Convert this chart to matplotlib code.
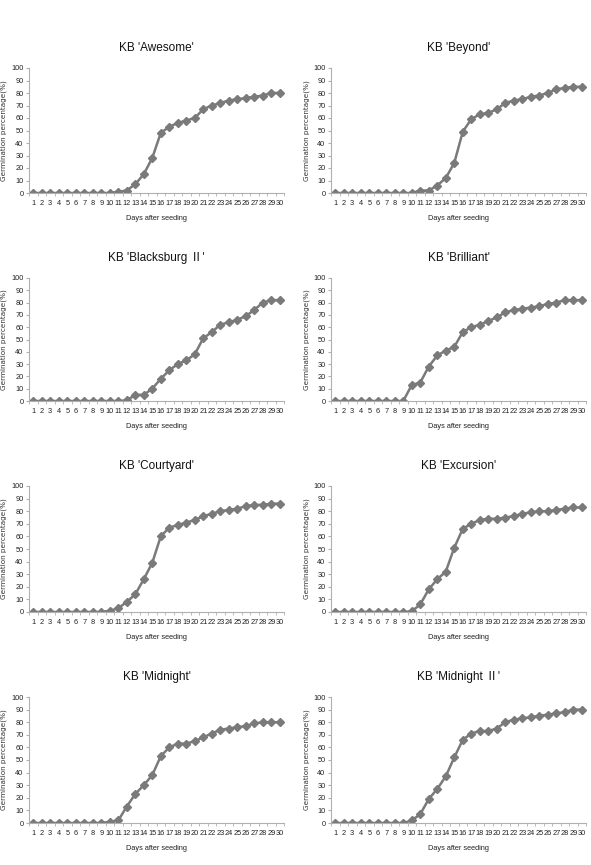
import numpy as np
import matplotlib
matplotlib.use("Agg")
import matplotlib.pyplot as plt
from matplotlib import font_manager

names = {f.name for f in font_manager.fontManager.ttflist}
base = 'Liberation Sans Narrow' if 'Liberation Sans Narrow' in names else 'Liberation Sans'
plt.rcParams['font.family'] = [base, 'Noto Sans CJK SC', 'DejaVu Sans']

days = list(range(1, 31))

titles = ["KB 'Awesome'", "KB 'Beyond'", "KB 'Blacksburg \u2161'", "KB 'Brilliant'",
          "KB 'Courtyard'", "KB 'Excursion'", "KB 'Midnight'", "KB 'Midnight \u2161'"]

awesome = [0]*10 + [1, 2, 7, 15, 28, 48, 53, 56, 58, 60, 67, 70, 72, 74, 75, 76, 77, 78, 80, 80]
beyond = [0]*10 + [2, 2, 6, 12, 24, 49, 59, 63, 64, 67, 72, 74, 75, 77, 78, 80, 83, 84, 85, 85]
blacksburg2 = [0]*11 + [0.5, 5, 5, 10, 18, 25, 30, 33, 38, 51, 56, 62, 64, 66, 69, 74, 80, 82, 82]
brilliant = [0]*9 + [13, 15, 28, 37, 41, 44, 56, 60, 62, 65, 68, 72, 74, 75, 76, 77, 79, 80, 82, 82, 82]
courtyard = [0]*9 + [1, 3, 8, 14, 26, 39, 60, 67, 69, 71, 73, 76, 78, 80, 81, 82, 84, 85, 85, 86, 86]
excursion = [0]*9 + [0.5, 6, 18, 26, 32, 51, 66, 70, 73, 74, 74, 75, 76, 78, 79, 80, 80, 81, 82, 83, 83]
midnight = [0]*9 + [1, 2, 13, 23, 30, 38, 53, 60, 63, 63, 65, 68, 71, 74, 75, 76, 77, 79, 80, 80, 80]
midnight2 = [0]*9 + [2, 7, 19, 27, 37, 52, 66, 71, 73, 73, 75, 80, 82, 83, 84, 85, 86, 87, 88, 90, 90]

series = [awesome, beyond, blacksburg2, brilliant, courtyard, excursion, midnight, midnight2]

W, H = 591, 865
fig = plt.figure(figsize=(W/100, H/100), dpi=100)

# pixel positions: (left, top of 100, bottom of 0)
lefts = [29, 331]
ylab_x = [7, 310]
rows = [(68, 193), (278, 401), (486, 612), (697, 823)]
width = 255
gray = '#7a7a7a'
spine = '#b0b0b0'

for i, (title, vals) in enumerate(zip(titles, series)):
    r, c = divmod(i, 2)
    top, bot = rows[r]
    ax = fig.add_axes([lefts[c]/W, 1 - bot/H, width/W, (bot - top)/H])
    ax.plot(days, vals, color=gray, lw=1.8, marker='D', ms=3.6, mec=gray, mfc=gray)
    ax.set_xlim(0.5, 30.5)
    ax.set_ylim(0, 100)
    ax.set_yticks(range(0, 101, 10))
    ax.set_xticks(days)
    ax.set_xticks(np.arange(0.5, 31, 1), minor=True)
    for s in ['top', 'right']:
        ax.spines[s].set_visible(False)
    for s in ['left', 'bottom']:
        ax.spines[s].set_color(spine)
        ax.spines[s].set_linewidth(0.8)
    ax.tick_params(axis='x', which='major', length=0, labelsize=5.3, pad=5, colors='#222222')
    ax.tick_params(axis='x', which='minor', length=2, color=spine)
    ax.tick_params(axis='y', length=2, color=spine, labelsize=5.3, pad=2, labelcolor='#222222')
    ax.set_title(title, fontsize=8.5, pad=12, color='#111111')
    ax.set_xlabel('Days after seeding', fontsize=5.3, labelpad=6, color='#222222')
    ax.set_ylabel('Germination percentage(%)', fontsize=5.2, color='#333333',
                  family=['DejaVu Sans'])
    ax.yaxis.set_label_coords((ylab_x[c] - lefts[c]) / width, 0.5)

fig.savefig('out.png', dpi=100)
